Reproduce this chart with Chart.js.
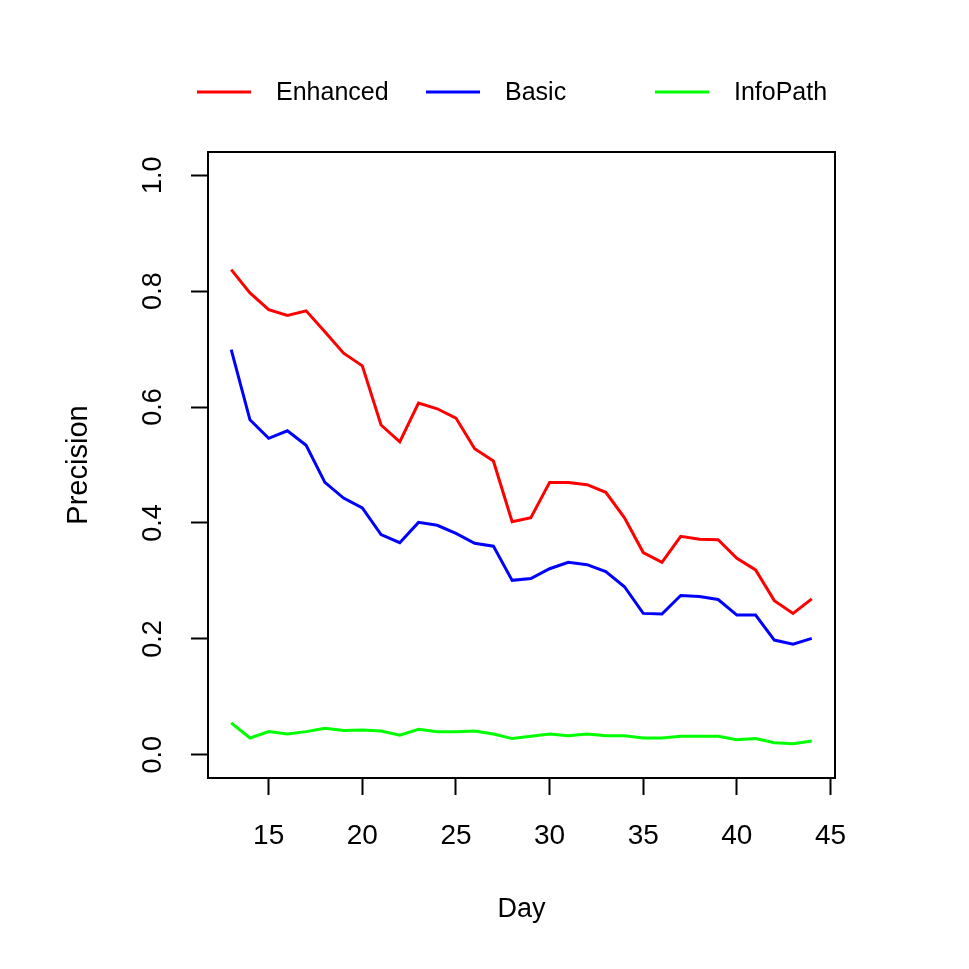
<!DOCTYPE html>
<html>
<head>
<meta charset="utf-8">
<script src="https://cdn.jsdelivr.net/npm/chart.js@4"></script>
<style>
  html, body { margin: 0; padding: 0; background: #fff; }
  #wrap { width: 969px; height: 969px; }
</style>
</head>
<body>
<div id="wrap"><canvas id="precChart"></canvas></div>
<script>
const days = [13, 14, 15, 16, 17, 18, 19, 20, 21, 22, 23, 24, 25, 26, 27, 28,
  29, 30, 31, 32, 33, 34, 35, 36, 37, 38, 39, 40, 41, 42, 43, 44];

const enhanced = [0.837, 0.797, 0.768, 0.758, 0.766, 0.730, 0.693, 0.671, 0.569, 0.540,
  0.607, 0.597, 0.581, 0.528, 0.507, 0.402, 0.409, 0.470, 0.470, 0.466, 0.453, 0.409,
  0.349, 0.332, 0.377, 0.372, 0.371, 0.339, 0.319, 0.266, 0.244, 0.269];

const basic = [0.699, 0.578, 0.546, 0.559, 0.534, 0.470, 0.443, 0.426, 0.380, 0.366,
  0.401, 0.396, 0.382, 0.365, 0.360, 0.301, 0.304, 0.321, 0.332, 0.328, 0.316, 0.290,
  0.244, 0.243, 0.275, 0.273, 0.268, 0.241, 0.241, 0.198, 0.191, 0.201];

const infoPath = [0.055, 0.029, 0.040, 0.036, 0.040, 0.046, 0.042, 0.043, 0.041, 0.034,
  0.044, 0.040, 0.040, 0.041, 0.036, 0.028, 0.032, 0.036, 0.033, 0.036, 0.033, 0.033,
  0.029, 0.029, 0.032, 0.032, 0.032, 0.026, 0.028, 0.021, 0.019, 0.024];

const xTicks = [15, 20, 25, 30, 35, 40, 45];
const yTicks = [0, 0.2, 0.4, 0.6, 0.8, 1.0];

const FONT = "'Liberation Sans', Arial, Helvetica, sans-serif";

function toPoints(vals) {
  return days.map((d, i) => ({ x: d, y: vals[i] }));
}

function series(label, vals, color) {
  return {
    label: label,
    data: toPoints(vals),
    borderColor: color,
    backgroundColor: color,
    borderWidth: 3,
    pointRadius: 0,
    tension: 0,
    fill: false,
  };
}

// R-style box around the plot region
const boxPlugin = {
  id: "box",
  afterDraw(chart) {
    const a = chart.chartArea;
    const c = chart.ctx;
    c.save();
    c.strokeStyle = "#000";
    c.lineWidth = 2;
    c.strokeRect(a.left, a.top, a.right - a.left, a.bottom - a.top);
    c.restore();
  },
};

// legend laid out in fixed columns like the original
const legendPlugin = {
  id: "colLegend",
  afterDraw(chart) {
    const c = chart.ctx;
    const cols = [197, 426, 655];
    const y = 92;
    c.save();
    c.font = "25px " + FONT;
    c.textBaseline = "middle";
    c.textAlign = "left";
    chart.data.datasets.forEach((ds, i) => {
      const x0 = cols[i];
      c.strokeStyle = ds.borderColor;
      c.lineWidth = 3;
      c.beginPath();
      c.moveTo(x0, y);
      c.lineTo(x0 + 54, y);
      c.stroke();
      c.fillStyle = "#000";
      c.fillText(ds.label, x0 + 79, y + 1);
    });
    c.restore();
  },
};

const ctx = document.getElementById("precChart").getContext("2d");

new Chart(ctx, {
  type: "line",
  data: {
    datasets: [
      series("Enhanced", enhanced, "#ff0000"),
      series("Basic", basic, "#0000ff"),
      series("InfoPath", infoPath, "#00ff00"),
    ],
  },
  options: {
    responsive: true,
    maintainAspectRatio: false,
    animation: false,
    layout: { padding: { top: 152, right: 134, bottom: 30, left: 40 } },
    plugins: {
      legend: { display: false },
      tooltip: { enabled: false },
    },
    scales: {
      x: {
        type: "linear",
        min: 11.76,
        max: 45.24,
        afterBuildTicks: (s) => { s.ticks = xTicks.map((v) => ({ value: v })); },
        afterFit: (s) => { s.height = 161; },
        grid: { display: true, drawOnChartArea: false, drawTicks: true, tickLength: 17, tickWidth: 2, tickColor: "#000" },
        border: { display: false },
        ticks: { color: "#000", font: { family: FONT, size: 28 }, padding: 24, maxRotation: 0, autoSkip: false },
        title: { display: true, text: "Day", color: "#000", font: { family: FONT, size: 27 }, padding: { top: 0, bottom: 13 } },
      },
      y: {
        type: "linear",
        min: -0.04,
        max: 1.04,
        afterBuildTicks: (s) => { s.ticks = yTicks.map((v) => ({ value: v })); },
        afterFit: (s) => { s.width = 168; },
        grid: { display: true, drawOnChartArea: false, drawTicks: true, tickLength: 17, tickWidth: 2, tickColor: "#000" },
        border: { display: false },
        ticks: {
          color: "#000",
          font: { family: FONT, size: 27 },
          padding: 19,
          minRotation: 90,
          maxRotation: 90,
          crossAlign: "center",
          autoSkip: false,
          callback: (v) => Number(v).toFixed(1),
        },
        title: { display: true, text: "Precision", color: "#000", font: { family: FONT, size: 29 }, padding: { top: 22, bottom: 0 } },
      },
    },
  },
  plugins: [boxPlugin, legendPlugin],
});
</script>
</body>
</html>
